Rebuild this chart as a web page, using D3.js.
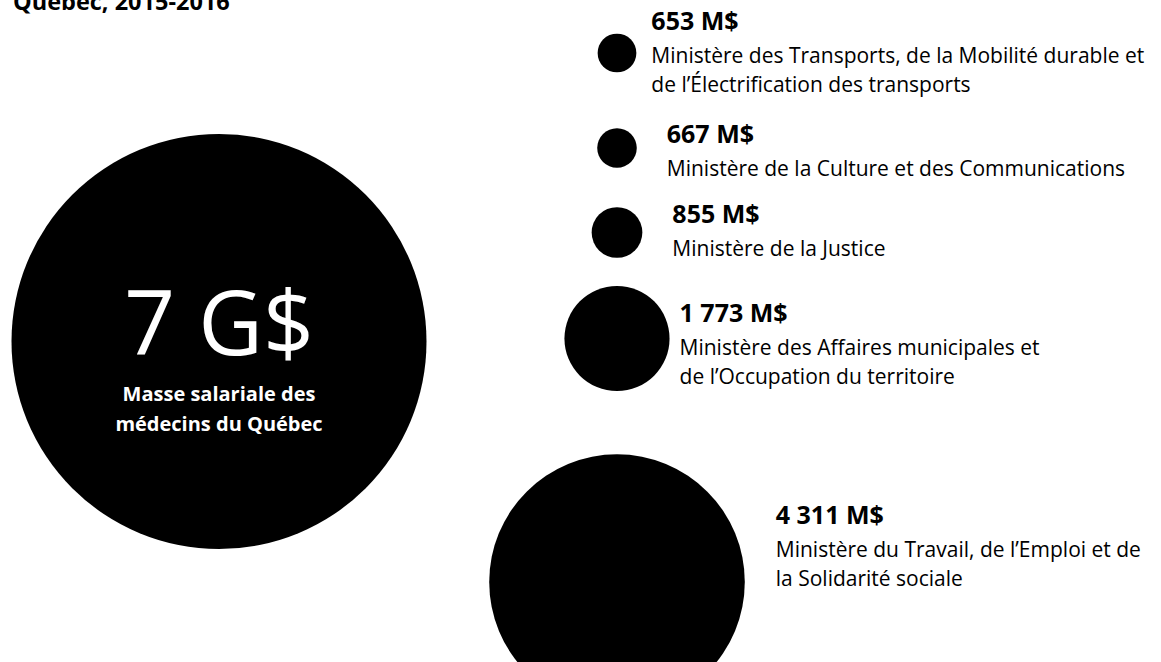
<!DOCTYPE html>
<html>
<head>
<meta charset="utf-8">
<script src="https://cdn.jsdelivr.net/npm/d3@7"></script>
<style>
  body { margin: 0; background: #fff; }
  svg { display: block; font-family: "Open Sans", "Noto Sans", sans-serif; }
</style>
</head>
<body>
<div id="chart"></div>
<script>
// valeurs en M$
var ministeres = [
    ["Ministère des Transports, de la Mobilité durable et", "de l’Électrification des transports"],
    ["Ministère de la Culture et des Communications"],
    ["Ministère de la Justice"],
    ["Ministère des Affaires municipales et", "de l’Occupation du territoire"],
    ["Ministère du Travail, de l’Emploi et de", "la Solidarité sociale"]
];
var montants = [653, 667, 855, 1773, 4311];
var etiquettes = ["653 M$", "667 M$", "855 M$", "1 773 M$", "4 311 M$"];

var masseMedecins = 7000;
var masseEtiquette = "7 G$";
var masseTexte = ["Masse salariale des", "médecins du Québec"];
var titre = "Québec, 2015-2016";

// mise en page (centres des cercles, décalage des textes)
var centresY = [53, 148, 232.5, 338.5, 582];
var ecartTexte = [15, 30, 30, 10, 31];
var montantDy = [-23, -5, -10, -17, -58];

var width = 1161, height = 662;
var cxPetits = 617;

var svg = d3.select("#chart").append("svg")
    .attr("width", width)
    .attr("height", height);

// rayon proportionnel a la valeur
var r = d3.scaleLinear().domain([0, masseMedecins]).range([0, 207.5]);

// titre coupe en haut, comme dans l'original
svg.append("text")
    .attr("x", 13)
    .attr("y", 10)
    .attr("font-size", 23.5)
    .attr("font-weight", 700)
    .attr("fill", "#000")
    .text(titre);

// gros cercle
var gros = svg.append("g").attr("transform", "translate(219,341.5)");
gros.append("circle")
    .attr("r", r(masseMedecins))
    .attr("fill", "#000");
gros.append("text")
    .attr("text-anchor", "middle")
    .attr("y", 13)
    .attr("font-size", 89)
    .attr("font-weight", 400)
    .attr("fill", "#fff")
    .text(masseEtiquette);
gros.selectAll("text.sous")
    .data(masseTexte)
    .enter().append("text")
    .attr("class", "sous")
    .attr("text-anchor", "middle")
    .attr("y", function (d, i) { return 59 + i * 30; })
    .attr("font-size", 20)
    .attr("font-weight", 700)
    .attr("fill", "#fff")
    .text(function (d) { return d; });

var items = montants.map(function (m, i) {
    return { montant: m, etiquette: etiquettes[i], lignes: ministeres[i], cy: centresY[i], ecart: ecartTexte[i], dy: montantDy[i] };
});

var g = svg.selectAll("g.item")
    .data(items)
    .enter().append("g")
    .attr("class", "item")
    .attr("transform", function (d) { return "translate(" + cxPetits + "," + d.cy + ")"; });

g.append("circle")
    .attr("r", function (d) { return r(d.montant); })
    .attr("fill", "#000");

g.append("text")
    .attr("x", function (d) { return r(d.montant) + d.ecart; })
    .attr("y", function (d) { return d.dy; })
    .attr("font-size", 25)
    .attr("font-weight", 700)
    .attr("fill", "#000")
    .text(function (d) { return d.etiquette; });

g.each(function (d) {
    d3.select(this).selectAll("text.ligne")
        .data(d.lignes)
        .enter().append("text")
        .attr("class", "ligne")
        .attr("x", r(d.montant) + d.ecart)
        .attr("y", function (l, i) { return d.dy + 33 + i * 29; })
        .attr("font-size", 21)
        .attr("fill", "#000")
        .text(function (l) { return l; });
});
</script>
</body>
</html>
